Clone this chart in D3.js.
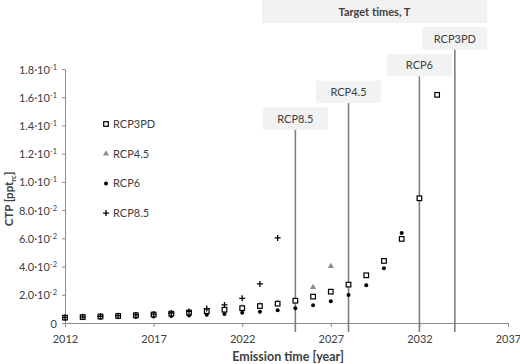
<!DOCTYPE html>
<html>
<head>
<meta charset="utf-8">
<script src="https://cdn.jsdelivr.net/npm/d3@7"></script>
<style>
  body { margin: 0; background: #fff; }
  svg text { font-family: Lato, "Open Sans", sans-serif; fill: #404040; }
</style>
</head>
<body>
<div id="chart"></div>
<script>
// ---- data ----
const years3PD = d3.range(2012, 2034);
const rcp3pd = [0.0038, 0.0042, 0.0046, 0.0050, 0.0055, 0.0060, 0.0066, 0.0074, 0.0084, 0.0094, 0.0105,
                0.0120, 0.0137, 0.0158, 0.0187, 0.0222, 0.0272, 0.0338, 0.0440, 0.0596, 0.0884, 0.1617];
const years45 = d3.range(2012, 2028);
const rcp45 = [0.0038, 0.0042, 0.0046, 0.0050, 0.0055, 0.0061, 0.0068, 0.0077, 0.0088, 0.0099, 0.0112,
               0.0126, 0.0141, 0.0160, 0.0253, 0.0402];
const years6 = d3.range(2012, 2032);
const rcp6 = [0.0032, 0.0034, 0.0037, 0.0040, 0.0043, 0.0046, 0.0050, 0.0053, 0.0058, 0.0064, 0.0072,
              0.0080, 0.0090, 0.0104, 0.0125, 0.0154, 0.0199, 0.0267, 0.0388, 0.0638];
const years85 = d3.range(2012, 2025);
const rcp85 = [0.0040, 0.0044, 0.0048, 0.0052, 0.0057, 0.0063, 0.0071, 0.0082, 0.0102, 0.0128, 0.0175,
               0.0277, 0.0603];

const seriesNames = ["RCP3PD", "RCP4.5", "RCP6", "RCP8.5"];
const targetNames = ["RCP8.5", "RCP4.5", "RCP6", "RCP3PD"];
const targetYears = [2025, 2028, 2032, 2034];
const xTicks = [2012, 2017, 2022, 2027, 2032, 2037];
const yTicks = d3.range(0, 0.181, 0.02);

// ---- setup ----
const width = 520, height = 364;
const svg = d3.select("#chart").append("svg")
    .attr("width", width)
    .attr("height", height);

const x = d3.scaleLinear().domain([2012, 2037]).range([65, 508]);
const y = d3.scaleLinear().domain([0, 0.18]).range([323, 69]);

const axisColor = "#8c8c8c";

// y axis
const yAxis = d3.axisLeft(y).tickValues(yTicks).tickSize(3).tickSizeOuter(0).tickFormat("");
const gy = svg.append("g").attr("transform", `translate(${x(2012)},0)`).call(yAxis);
gy.selectAll("path, line").attr("stroke", axisColor);
gy.selectAll(".tick").each(function(d) {
    const t = d3.select(this).append("text")
        .attr("x", -8).attr("y", 4)
        .attr("text-anchor", "end")
        .style("font-size", "11px");
    if (d < 1e-9) { t.text("0"); return; }
    const exp = d >= 0.0999 ? -1 : -2;
    const mant = d / Math.pow(10, exp);
    t.append("tspan").text(mant.toFixed(1) + "·10");
    t.append("tspan").attr("dy", -4).style("font-size", "7.5px").text("-" + Math.abs(exp));
});

// x axis
const xAxis = d3.axisBottom(x).tickValues(xTicks).tickSize(4).tickSizeOuter(0).tickFormat(d3.format("d"));
const gx = svg.append("g").attr("transform", `translate(0,${y(0)})`).call(xAxis);
gx.selectAll("path, line").attr("stroke", axisColor);
gx.selectAll("text").attr("y", 12).style("font-size", "11px").attr("fill", "#404040");

// axis titles
svg.append("text")
    .attr("x", 288).attr("y", 361)
    .attr("text-anchor", "middle")
    .style("font-size", "12.5px").style("font-weight", "bold")
    .text("Emission time [year]");

const yt = svg.append("text")
    .attr("transform", `translate(13,199) rotate(-90)`)
    .attr("text-anchor", "middle")
    .style("font-size", "11.5px").style("font-weight", "bold");
yt.append("tspan").text("CTP [ppt");
yt.append("tspan").attr("dy", 3).style("font-size", "7.5px").text("rc");
yt.append("tspan").attr("dy", -3).text("]");

// target time lines and labels
const boxW = 65, boxH = 22.5;
svg.append("rect")
    .attr("x", 262).attr("y", 0).attr("width", 225).attr("height", 23)
    .attr("fill", "#f2f2f2");
svg.append("text")
    .attr("x", 374.5).attr("y", 16)
    .attr("text-anchor", "middle")
    .style("font-size", "11px").style("font-weight", "bold")
    .text("Target times, T");

targetYears.forEach((yr, i) => {
    const top = 107.3 - i * 26.7;
    svg.append("rect")
        .attr("x", x(yr) - boxW / 2).attr("y", top)
        .attr("width", boxW).attr("height", boxH)
        .attr("fill", "#f2f2f2");
    svg.append("text")
        .attr("x", x(yr)).attr("y", top + 15.5)
        .attr("text-anchor", "middle")
        .style("font-size", "11px")
        .text(targetNames[i]);
    svg.append("line")
        .attr("x1", x(yr)).attr("x2", x(yr))
        .attr("y1", top + boxH).attr("y2", y(0) + 9)
        .attr("stroke", "#7f7f7f").attr("stroke-width", 1.6);
});

// marker drawers
function square(g, cx, cy) {
    g.append("rect").attr("x", cx - 2.3).attr("y", cy - 2.3).attr("width", 4.6).attr("height", 4.6)
        .attr("fill", "#fff").attr("stroke", "#000").attr("stroke-width", 1.2);
}
function triangle(g, cx, cy) {
    g.append("path").attr("d", d3.symbol(d3.symbolTriangle, 16)())
        .attr("transform", `translate(${cx},${cy})`).attr("fill", "#8c8c8c");
}
function dot(g, cx, cy) {
    g.append("circle").attr("cx", cx).attr("cy", cy).attr("r", 2).attr("fill", "#000");
}
function plus(g, cx, cy) {
    g.append("path").attr("d", `M${cx - 3},${cy}H${cx + 3}M${cx},${cy - 3}V${cy + 3}`)
        .attr("stroke", "#000").attr("stroke-width", 1.3);
}
const drawers = [square, triangle, dot, plus];

const marks = svg.append("g");
const series = [
    {years: years6, vals: rcp6, draw: dot},
    {years: years45, vals: rcp45, draw: triangle},
    {years: years3PD, vals: rcp3pd, draw: square},
    {years: years85, vals: rcp85, draw: plus}
];
series.forEach(s => {
    s.vals.forEach((v, j) => s.draw(marks, x(s.years[j]), y(v)));
});

// legend
const legend = svg.append("g");
seriesNames.forEach((name, i) => {
    const ly = 124 + i * 29.7;
    drawers[i](legend, 106, ly);
    legend.append("text")
        .attr("x", 113).attr("y", ly + 4)
        .style("font-size", "11px")
        .text(name);
});
</script>
</body>
</html>
